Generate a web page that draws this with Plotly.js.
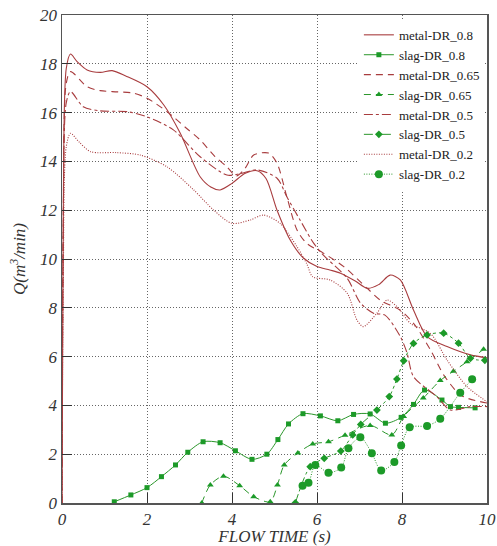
<!DOCTYPE html>
<html><head><meta charset="utf-8">
<script src="https://cdn.plot.ly/plotly-3.0.1.min.js"></script>
<style>html,body{margin:0;padding:0;background:#fff}#chart{width:497px;height:546px}</style>
</head><body><div id="chart"></div>
<script>
// metal DR 0.8
const m08x = [0, 0.03, 0.1, 0.2, 0.35, 0.59, 0.9, 1.18, 1.5, 2.0, 2.4, 2.78, 3.25, 3.5, 3.72, 4.0, 4.3, 4.59, 4.8, 5.06, 5.37, 5.68, 6.0, 6.3, 6.55, 6.9, 7.18, 7.45, 7.72, 7.96, 8.27, 8.59, 9.06, 9.61, 10];
const m08y = [0, 12, 17.8, 18.4, 18.1, 17.75, 17.65, 17.72, 17.5, 17.06, 16.3, 15.16, 13.37, 12.95, 12.83, 13.1, 13.5, 13.62, 13.3, 12.0, 10.78, 10.04, 9.69, 9.55, 9.42, 9.1, 8.8, 8.95, 9.34, 9.14, 7.91, 6.82, 6.41, 6.07, 5.95];
// metal DR 0.65
const m065x = [0, 0.03, 0.1, 0.2, 0.59, 0.9, 1.3, 1.68, 2.0, 2.47, 2.9, 3.25, 3.6, 3.88, 4.1, 4.3, 4.51, 4.86, 5.06, 5.29, 5.53, 5.76, 6.15, 6.63, 7.18, 7.5, 7.96, 8.3, 8.67, 9.0, 9.4, 10];
const m065y = [0, 11.5, 17.2, 17.68, 17.06, 16.9, 16.85, 16.8, 16.59, 16.04, 15.4, 14.88, 14.2, 13.78, 13.4, 13.7, 14.26, 14.34, 13.92, 12.55, 11.19, 10.64, 10.24, 9.69, 8.8, 8.3, 7.9, 7.3, 6.27, 5.2, 4.4, 4.1];
// metal DR 0.5
const m05x = [0, 0.03, 0.1, 0.2, 0.5, 0.9, 1.53, 2.0, 2.62, 3.25, 3.88, 4.2, 4.59, 5.06, 5.29, 5.6, 5.92, 6.15, 6.71, 7.02, 7.33, 7.6, 7.96, 8.12, 8.27, 8.82, 9.14, 9.61, 10];
const m05y = [0, 11, 16.4, 16.86, 16.24, 16.07, 16.04, 15.83, 15.29, 14.19, 13.44, 13.5, 13.65, 13.31, 12.55, 11.6, 10.65, 10.16, 9.21, 8.2, 7.78, 7.7, 6.82, 6.14, 5.18, 4.36, 3.81, 3.95, 3.95];
// metal DR 0.2
const m02x = [0, 0.03, 0.1, 0.2, 0.4, 0.67, 1.29, 1.84, 2.47, 3.1, 3.57, 4.0, 4.43, 4.74, 5.13, 5.53, 5.76, 5.9, 6.31, 6.71, 6.94, 7.09, 7.41, 7.65, 7.88, 8.2, 8.67, 9.06, 9.53, 10];
const m02y = [0, 9, 14.6, 15.15, 14.8, 14.4, 14.36, 14.26, 13.78, 12.83, 12.0, 11.46, 11.6, 11.8, 11.46, 10.5, 9.8, 9.27, 9.14, 8.6, 7.5, 7.23, 7.78, 8.32, 8.05, 7.36, 6.95, 5.86, 4.77, 4.15];
// slag DR 0.8
const s08x = [1.23, 1.62, 2.0, 2.34, 2.67, 2.96, 3.32, 3.72, 4.08, 4.47, 4.82, 5.08, 5.33, 5.67, 6.08, 6.49, 6.86, 7.25, 7.61, 7.98, 8.27, 8.53, 8.94, 9.14, 9.33, 9.72];
const s08y = [0.05, 0.33, 0.63, 1.08, 1.56, 2.08, 2.51, 2.47, 2.14, 1.79, 2.0, 2.6, 3.24, 3.66, 3.57, 3.37, 3.63, 3.65, 3.27, 3.51, 4.04, 4.63, 4.22, 3.95, 3.92, 3.9];
// slag DR 0.65
const s065x = [3.29, 3.49, 3.8, 4.18, 4.51, 4.9, 5.07, 5.23, 5.55, 5.9, 6.27, 6.66, 7.25, 7.76, 8.04, 8.5, 8.9, 9.21, 9.53, 9.92];
const s065y = [0, 0.74, 1.1, 0.71, 0.26, 0.05, 0.74, 1.56, 2.05, 2.42, 2.51, 2.78, 3.18, 2.79, 3.55, 4.3, 5.02, 5.4, 5.79, 6.3];
// slag DR 0.5
const s05x = [5.49, 5.84, 6.17, 6.56, 6.84, 7.03, 7.41, 7.7, 7.88, 8.04, 8.27, 8.59, 8.98, 9.33, 9.61, 9.95];
const s05y = [0, 1.49, 1.83, 2.13, 2.79, 3.22, 3.81, 4.36, 5.08, 5.83, 6.54, 6.89, 6.96, 6.55, 5.93, 5.85];
// slag DR 0.2
const s02x = [5.66, 5.8, 5.96, 6.27, 6.57, 6.74, 7.02, 7.29, 7.51, 7.82, 7.98, 8.18, 8.59, 8.9, 9.37, 9.65];
const s02y = [0.71, 0.83, 1.56, 1.24, 1.45, 2.24, 2.69, 2.04, 1.33, 1.68, 2.36, 3.1, 3.16, 3.45, 4.52, 5.07];

const names = ['metal-DR_0.8','slag-DR_0.8','metal-DR_0.65','slag-DR_0.65','metal-DR_0.5','slag-DR_0.5','metal-DR_0.2','slag-DR_0.2'];

const RED = '#a83c3e', GREEN = '#2a962a', MK = '#1c9a28';
function metal(x, y, name, dash) {
  return {x, y, name, type:'scatter', mode:'lines',
    line:{color:RED, width:1.1, dash, shape:'spline', smoothing:0.8}};
}
function slag(x, y, name, dash, sym, size) {
  return {x, y, name, type:'scatter', mode:'lines+markers',
    line:{color:GREEN, width:1, dash, shape:'spline', smoothing:0.8},
    marker:{color:MK, symbol:sym, size}};
}
const FINE = '1px,1.5px';
const traces = [
  metal(m08x, m08y, names[0], 'solid'),
  slag(s08x, s08y, names[1], 'solid', 'square', 5),
  metal(m065x, m065y, names[2], '7px,5px'),
  slag(s065x, s065y, names[3], '7px,5px', 'triangle-up', 6),
  metal(m05x, m05y, names[4], 'dashdot'),
  slag(s05x, s05y, names[5], 'dashdot', 'diamond', 6),
  metal(m02x, m02y, names[6], FINE),
  slag(s02x, s02y, names[7], FINE, 'circle', 8)
];

const FAM = 'Liberation Serif';
const tickFont = {family:FAM, size:17, color:'#333', style:'italic'};
const layout = {
  width:497, height:546,
  margin:{l:62, r:10, t:15, b:43, autoexpand:false},
  paper_bgcolor:'#fff', plot_bgcolor:'#fff',
  showlegend:true,
  legend:{x:0.995, y:0.99, xanchor:'right', yanchor:'top', bgcolor:'#fff',
    font:{family:FAM, size:13, color:'#222'},
    tracegroupgap:0},
  xaxis:{range:[0,10], dtick:2, tick0:0, showgrid:true, gridcolor:'#666', griddash:'1px,2px', gridwidth:1,
    zeroline:false, showline:true, linecolor:'#555', linewidth:1.5, mirror:true,
    ticks:'inside', ticklen:10, tickcolor:'#333', tickfont:tickFont,
    title:{text:'FLOW TIME (s)', font:{family:FAM, size:17, color:'#333', style:'italic'}, standoff:2}},
  yaxis:{range:[0,20], dtick:2, tick0:0, showgrid:true, gridcolor:'#666', griddash:'1px,2px', gridwidth:1,
    zeroline:false, showline:true, linecolor:'#555', linewidth:1.5, mirror:true,
    ticks:'inside', ticklen:10, tickcolor:'#333', tickfont:tickFont,
    title:{text:'Q(m<sup>3</sup>/min)', font:{family:FAM, size:17, color:'#333', style:'italic'}, standoff:10}}
};
Plotly.newPlot('chart', traces, layout, {displayModeBar:false, staticPlot:true});
</script></body></html>
